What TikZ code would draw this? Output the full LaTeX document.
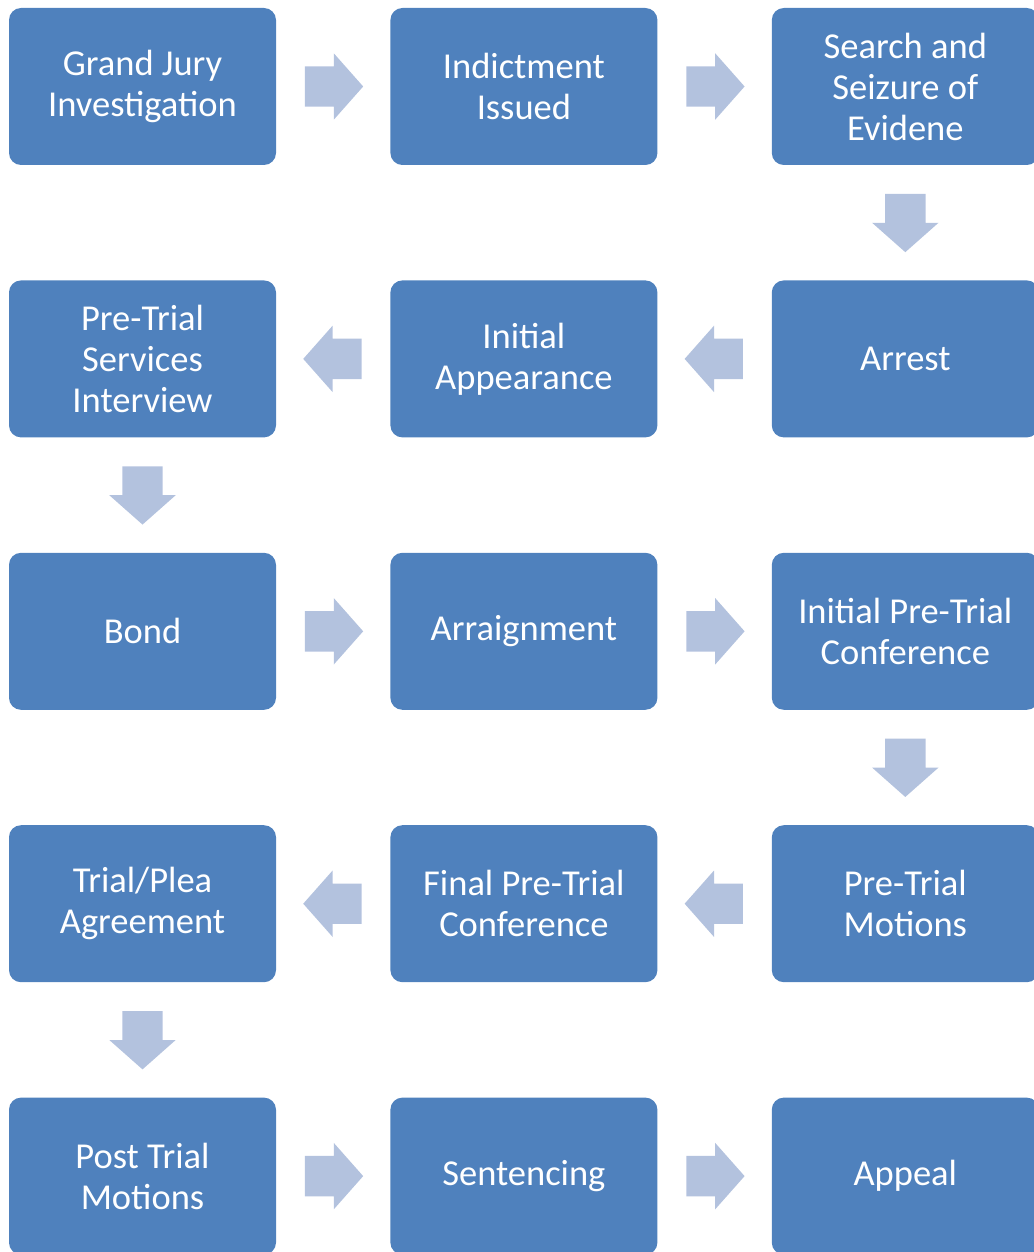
\documentclass[tikz,border=0pt]{standalone}
\usepackage{fontspec}
\setmainfont{Carlito}
\usetikzlibrary{shapes.arrows,positioning,calc}
\definecolor{boxblue}{HTML}{4F81BD}
\definecolor{arrowblue}{HTML}{B3C2DE}

\begin{document}
\begin{tikzpicture}[x=1pt,y=-1pt]
				\tikzstyle{stage}=[fill=boxblue,rounded corners=12pt,
				minimum width=267pt,minimum height=157pt,inner sep=0pt,
				text=white,align=center,font=\fontsize{36.5}{41}\selectfont]
				\tikzstyle{flow}=[single arrow,fill=arrowblue,inner sep=20pt,
				minimum height=57pt,anchor=tail,
				single arrow head extend=13pt,single arrow tip angle=97]
				\useasboundingbox (0,0) rectangle (1033,1252);
				% row 1
				\node[stage] (grand) at (142.5,86.5) {Grand Jury\\Investigation};
				\node[stage,right=114pt of grand] (indict) {Indictment\\Issued};
				\node[stage,right=114pt of indict] (search) {Search and\\Seizure of\\Evidene};
				% row 2
				\node[stage,below=115pt of search] (arrest) {Arrest};
				\node[stage,left=114pt of arrest] (initial) {Initial\\Appearance};
				\node[stage,left=114pt of initial] (services) {Pre-Trial\\Services\\Interview};
				% row 3
				\node[stage,below=115pt of services] (bond) {Bond};
				\node[stage,right=114pt of bond] (arraign) {Arraignment};
				\node[stage,right=114pt of arraign] (conf) {Initial Pre-Trial\\Conference};
				% row 4
				\node[stage,below=115pt of conf] (motions) {Pre-Trial\\Motions};
				\node[stage,left=114pt of motions] (final) {Final Pre-Trial\\Conference};
				\node[stage,left=114pt of final] (trial) {Trial/Plea\\Agreement};
				% row 5
				\node[stage,below=115pt of trial] (post) {Post Trial\\Motions};
				\node[stage,right=114pt of post] (sentence) {Sentencing};
				\node[stage,right=114pt of sentence] (appeal) {Appeal};
				% arrows, tail set half a length back from the midpoint
				\node[flow] (a1) at ($($(grand)!0.5!(indict)$)!28.5pt!(grand)$) {};
				\node[flow] (a2) at ($($(indict)!0.5!(search)$)!28.5pt!(indict)$) {};
				\node[flow,shape border rotate=270] (a3) at ($($(search)!0.5!(arrest)$)!29pt!(search)$) {};
				\node[flow,shape border rotate=180] (a4) at ($($(arrest)!0.5!(initial)$)!28.5pt!(arrest)$) {};
				\node[flow,shape border rotate=180] (a5) at ($($(initial)!0.5!(services)$)!28.5pt!(initial)$) {};
				\node[flow,shape border rotate=270] (a6) at ($($(services)!0.5!(bond)$)!29pt!(services)$) {};
				\node[flow] (a7) at ($($(bond)!0.5!(arraign)$)!28.5pt!(bond)$) {};
				\node[flow] (a8) at ($($(arraign)!0.5!(conf)$)!28.5pt!(arraign)$) {};
				\node[flow,shape border rotate=270] (a9) at ($($(conf)!0.5!(motions)$)!29pt!(conf)$) {};
				\node[flow,shape border rotate=180] (a10) at ($($(motions)!0.5!(final)$)!28.5pt!(motions)$) {};
				\node[flow,shape border rotate=180] (a11) at ($($(final)!0.5!(trial)$)!28.5pt!(final)$) {};
				\node[flow,shape border rotate=270] (a12) at ($($(trial)!0.5!(post)$)!29pt!(trial)$) {};
				\node[flow] (a13) at ($($(post)!0.5!(sentence)$)!28.5pt!(post)$) {};
				\node[flow] (a14) at ($($(sentence)!0.5!(appeal)$)!28.5pt!(sentence)$) {};
\end{tikzpicture}
\end{document}
